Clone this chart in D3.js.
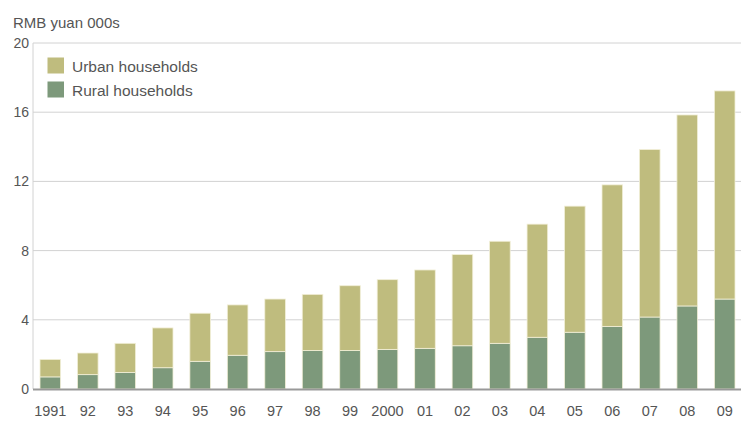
<!DOCTYPE html>
<html><head><meta charset="utf-8">
<script src="https://cdn.jsdelivr.net/npm/d3@7"></script>
<style>body{margin:0;background:#fff}svg{display:block}text{font-family:"Liberation Sans",Arial,sans-serif;fill:#555}</style>
</head><body>
<script>
const years = ["1991","92","93","94","95","96","97","98","99","2000","01","02","03","04","05","06","07","08","09"];
const rural = [0.70,0.83,0.96,1.23,1.60,1.95,2.16,2.22,2.22,2.29,2.35,2.50,2.64,2.99,3.28,3.62,4.16,4.80,5.20];
const total = [1.71,2.08,2.64,3.53,4.38,4.86,5.20,5.47,5.97,6.32,6.88,7.77,8.54,9.53,10.57,11.80,13.84,15.84,17.23];
const yTicks = [0,4,8,12,16,20];
const seriesNames = ["Urban households","Rural households"];
const colors = {urban:"#bfbc7e", rural:"#7d997b"};

const W=741,H=421;
const svg=d3.select("body").append("svg").attr("width",W).attr("height",H);
const y=d3.scaleLinear().domain([0,20]).range([389,43]);
const x=d3.scaleBand().domain(years).range([40,735]).paddingInner(0.45).paddingOuter(0);

// grid
svg.append("g").selectAll("line").data(yTicks.filter(d=>d>0)).join("line")
 .attr("x1",33).attr("x2",W).attr("y1",d=>y(d)).attr("y2",d=>y(d))
 .attr("stroke","#d2d2d2").attr("stroke-width",1);
// left axis line
svg.append("line").attr("x1",33).attr("x2",33).attr("y1",y(20)).attr("y2",y(0)).attr("stroke","#d2d2d2");
// tick labels
svg.append("g").selectAll("text").data(yTicks).join("text")
 .attr("x",29).attr("y",d=>y(d)+5).attr("text-anchor","end").attr("font-size",14).text(d=>d);

const data=years.map((yr,i)=>({yr,rural:rural[i],urban:total[i]-rural[i]}));
const stack=d3.stack().keys(["rural","urban"])(data);
svg.append("g").selectAll("g").data(stack).join("g")
 .attr("fill",d=>colors[d.key])
 .selectAll("rect").data(d=>d).join("rect")
 .attr("x",d=>x(d.data.yr)).attr("width",x.bandwidth())
 .attr("y",d=>y(d[1])).attr("height",d=>y(d[0])-y(d[1]))
 .attr("stroke","#f2efd8").attr("stroke-width",0.8);

// baseline
svg.append("line").attr("x1",33).attr("x2",W).attr("y1",y(0)+0.5).attr("y2",y(0)+0.5).attr("stroke","#999").attr("stroke-width",2);

// x labels
svg.append("g").selectAll("text").data(years).join("text")
 .attr("x",d=>x(d)+x.bandwidth()/2).attr("y",415.5).attr("text-anchor","middle").attr("font-size",14.5).text(d=>d);

// title
svg.append("text").attr("x",13).attr("y",27.5).attr("font-size",15).text("RMB yuan 000s");

// legend
const leg=svg.append("g");
[["urban",seriesNames[0]],["rural",seriesNames[1]]].forEach(([k,n],i)=>{
  leg.append("rect").attr("x",47.5).attr("y",57.5+i*24).attr("width",16.5).attr("height",16).attr("fill",colors[k]);
  leg.append("text").attr("x",72).attr("y",71.5+i*24).attr("font-size",15.5).text(n);
});
</script>
</body></html>
